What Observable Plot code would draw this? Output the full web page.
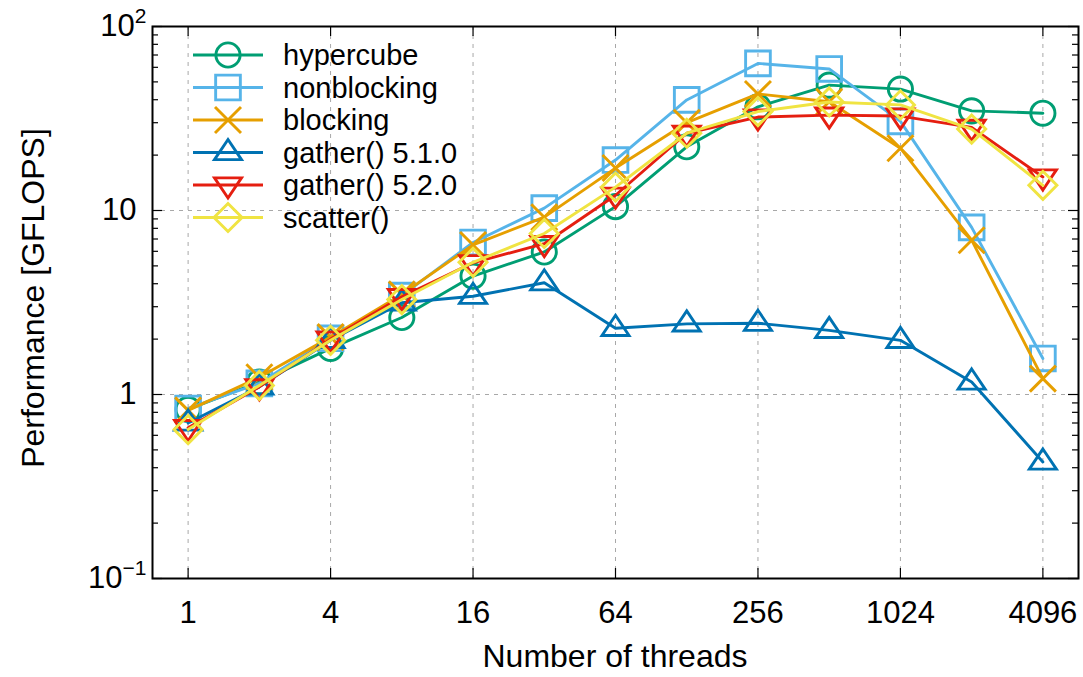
<!DOCTYPE html>
<html><head><meta charset="utf-8">
<script src="https://cdn.jsdelivr.net/npm/d3@7"></script>
<script src="https://cdn.jsdelivr.net/npm/@observablehq/plot@0.6"></script>
<style>
body{margin:0;background:#fff;}
#chart{width:1083px;height:677px;}
</style>
</head><body><div id="chart"></div>
<script>
// ---- data ----
const threads = [1, 2, 4, 8, 16, 32, 64, 128, 256, 512, 1024, 2048, 4096];
const seriesNames = ["hypercube", "nonblocking", "blocking", "gather() 5.1.0", "gather() 5.2.0", "scatter()"];
const hypercube   = [0.83, 1.17, 1.78, 2.62, 4.4, 5.95, 10.5, 22.2, 36.6, 48.0, 45.7, 34.8, 33.8];
const nonblocking = [0.84, 1.15, 2.02, 3.45, 6.7, 10.3, 18.8, 39.9, 63.0, 58.8, 30.5, 8.1, 1.57];
const blocking    = [0.82, 1.24, 2.05, 3.5, 6.5, 9.2, 17.0, 30.0, 43.0, 39.0, 21.8, 6.9, 1.22];
const gather510   = [0.70, 1.10, 1.97, 3.15, 3.42, 4.05, 2.29, 2.42, 2.44, 2.23, 1.97, 1.17, 0.43];
const gather520   = [0.66, 1.10, 2.00, 3.4, 5.2, 6.6, 12.1, 26.3, 32.2, 33.0, 32.6, 28.3, 15.2];
const scatter     = [0.645, 1.12, 1.97, 3.28, 5.23, 7.5, 13.4, 26.3, 34.5, 38.9, 37.5, 27.7, 13.7];
const seriesColors = ["#009e73", "#56b4e9", "#e69f00", "#0072b2", "#e51e10", "#f0e442"];
const xTicks = [1, 4, 16, 64, 256, 1024, 4096];
const xTickLabels = ["1", "4", "16", "64", "256", "1024", "4096"];
const yTicks = [0.1, 1, 10, 100];
const yTickLabels = ["10^\u22121", "1", "10", "10^2"];
const yMinorTicks = [0.2,0.3,0.4,0.5,0.6,0.7,0.8,0.9,2,3,4,5,6,7,8,9,20,30,40,50,60,70,80,90];
const yGrid = [1, 10];
const xLabel = "Number of threads";
const yLabel = "Performance [GFLOPS]";

// ---- layout ----
const W = 1083, H = 677, mL = 152, mR = 5, mT = 26, mB = 99;
const pw = W - mL - mR, ph = H - mT - mB;
const FONT = "'Liberation Sans', Arial, Helvetica, sans-serif";

// ---- symbols (unit = r) ----
function mk(fn){ return {draw(ctx, size){ const r = Math.sqrt(size/Math.PI); fn(ctx, r); }}; }
const symCircle = mk((c,r)=>{ c.moveTo(r*0.93,0); c.arc(0,0,r*0.93,0,2*Math.PI); });
const symSquare = mk((c,r)=>{ const h=r*0.95; c.moveTo(-h,-h); c.lineTo(h,-h); c.lineTo(h,h); c.lineTo(-h,h); c.closePath(); });
const symTimes = mk((c,r)=>{ const h=r; c.moveTo(-h,-h); c.lineTo(h,h); c.moveTo(h,-h); c.lineTo(-h,h); });
const symTriUp = mk((c,r)=>{ c.moveTo(0,-r); c.lineTo(r*1.04,r*0.55); c.lineTo(-r*1.04,r*0.55); c.closePath(); });
const symTriDown = mk((c,r)=>{ c.moveTo(0,r); c.lineTo(r*1.04,-r*0.55); c.lineTo(-r*1.04,-r*0.55); c.closePath(); });
const symDiamond = mk((c,r)=>{ const h=r*1.08; c.moveTo(0,-h); c.lineTo(h,0); c.lineTo(0,h); c.lineTo(-h,0); c.closePath(); });
const symbols = [symCircle, symSquare, symTimes, symTriUp, symTriDown, symDiamond];
const R = 13;
const LW = 2.9;

const values = [hypercube, nonblocking, blocking, gather510, gather520, scatter];
const rows = seriesNames.flatMap((s, i) => threads.map((t, j) => ({series: s, threads: t, perf: values[i][j]})));

const seriesMarks = seriesNames.flatMap((s, i) => {
  const d = rows.filter(r => r.series === s);
  return [
    Plot.line(d, {x: "threads", y: "perf", stroke: seriesColors[i], strokeWidth: LW}),
    Plot.dot(d, {x: "threads", y: "perf", symbol: symbols[i], r: R, stroke: seriesColors[i], fill: "none", strokeWidth: LW})
  ];
});

const xLabelRows = xTicks.map((v, i) => ({v, label: xTickLabels[i]}));

const plot = Plot.plot({
  width: W, height: H,
  marginLeft: mL, marginRight: mR, marginTop: mT, marginBottom: mB,
  style: {fontFamily: FONT, fontSize: "31px", color: "black", background: "white", overflow: "visible"},
  x: {type: "log", domain: [Math.SQRT1_2, 4096 * Math.SQRT2], axis: null},
  y: {type: "log", domain: [0.1, 100], axis: null},
  marks: [
    Plot.ruleX(xTicks, {x: d => d, stroke: "#a8a8a8", strokeWidth: 1, strokeDasharray: "4,5"}),
    Plot.ruleY(yGrid, {y: d => d, stroke: "#a8a8a8", strokeWidth: 1, strokeDasharray: "4,5"}),
    ...seriesMarks,
    Plot.tickY(yTicks, {y: d => d, insetRight: pw - 10, stroke: "black", strokeWidth: 1.2}),
    Plot.tickY(yTicks, {y: d => d, insetLeft: pw - 10, stroke: "black", strokeWidth: 1.2}),
    Plot.tickY(yMinorTicks, {y: d => d, insetRight: pw - 6, stroke: "black", strokeWidth: 1.2}),
    Plot.tickY(yMinorTicks, {y: d => d, insetLeft: pw - 6, stroke: "black", strokeWidth: 1.2}),
    Plot.tickX(xTicks, {x: d => d, insetTop: ph - 10, stroke: "black", strokeWidth: 1.2}),
    Plot.tickX(xTicks, {x: d => d, insetBottom: ph - 10, stroke: "black", strokeWidth: 1.2}),
    Plot.frame({stroke: "black", strokeWidth: 2}),
    Plot.text(xLabelRows, {x: "v", text: "label", frameAnchor: "bottom", lineAnchor: "top", dy: 22, fill: "black", clip: false}),
    Plot.axisY({ticks: yTicks, tickSize: 0, tickPadding: 16, tickFormat: d => yTickLabels[yTicks.indexOf(d)], label: null})
  ]
});

const svg = d3.select(plot);
// superscripts on y tick labels
svg.selectAll('g[aria-label="y-axis tick label"] text').each(function(){
  const s = this.textContent;
  if (s.includes("^")) {
    const [b, e] = s.split("^");
    const t = d3.select(this);
    t.text("");
    t.append("tspan").attr("dx", 10).text(b);
    t.append("tspan").attr("dy", -13).attr("font-size", 21).text(e);
  }
});

// axis titles
svg.append("text").attr("x", (mL + W - mR) / 2).attr("y", 667)
  .attr("text-anchor", "middle").attr("font-family", FONT).attr("font-size", 32).attr("fill", "black").text(xLabel);
svg.append("text").attr("transform", `translate(44,${mT + ph / 2 - 4}) rotate(-90)`)
  .attr("text-anchor", "middle").attr("font-family", FONT).attr("font-size", 32).attr("fill", "black").text(yLabel);

// legend
const lg = svg.append("g").attr("font-family", FONT).attr("font-size", 29).attr("text-anchor", "start");
const lx0 = mL + 41, lx1 = mL + 111, ltx = mL + 131, ly0 = mT + 29, ldy = 32.5;
seriesNames.forEach((s, i) => {
  const cy = ly0 + i * ldy, cx = (lx0 + lx1) / 2;
  lg.append("line").attr("x1", lx0).attr("x2", lx1).attr("y1", cy).attr("y2", cy)
    .attr("stroke", seriesColors[i]).attr("stroke-width", LW);
  lg.append("path").attr("d", d3.symbol(symbols[i], Math.PI * R * R)())
    .attr("transform", `translate(${cx},${cy})`).attr("fill", "none")
    .attr("stroke", seriesColors[i]).attr("stroke-width", LW);
  lg.append("text").attr("x", ltx).attr("y", cy).attr("dy", "0.36em").attr("text-anchor", "start").attr("fill", "black").text(s);
});

document.getElementById("chart").appendChild(plot);
</script>
</body></html>
